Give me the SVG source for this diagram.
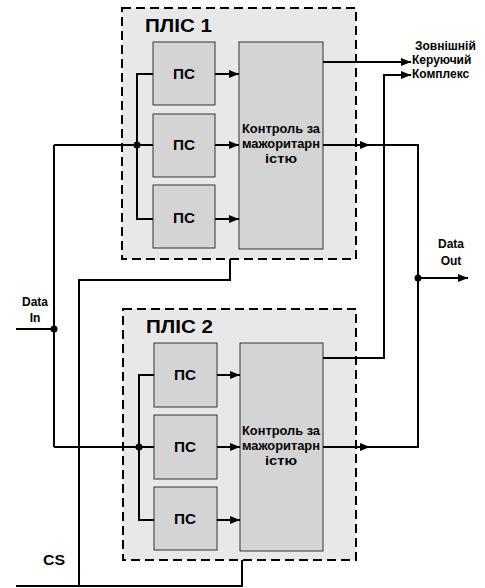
<svg xmlns="http://www.w3.org/2000/svg" width="485" height="588" viewBox="0 0 485 588">
<defs>
<style>
.plis{fill:#e8e8e8;stroke:#000;stroke-width:2;stroke-dasharray:9,5}
.box{fill:#d4d4d4;stroke:#333;stroke-width:1}
.w{fill:none;stroke:#000;stroke-width:2}
.t{font-family:"Liberation Sans",Arial,sans-serif;font-weight:bold;fill:#000}
.ttl{font-size:19px}
.ps{font-size:14px;text-anchor:middle}
.ctl{font-size:12px;text-anchor:middle}
.lbl{font-size:12px}
</style>
<marker id="ah" markerWidth="10" markerHeight="8" refX="10" refY="4" orient="auto" markerUnits="userSpaceOnUse">
<path d="M0,0 L10,4 L0,8 z" fill="#000"/>
</marker>
</defs>
<rect width="485" height="588" fill="#fff"/>

<g id="plis1">
<rect class="plis" x="122" y="8" width="234" height="251"/>
<text class="t ttl" x="145" y="32" textLength="67" lengthAdjust="spacingAndGlyphs">ПЛІС 1</text>
</g>
<g id="ps1a"><rect class="box" x="153" y="42" width="62" height="63"/><text class="t ps" x="184" y="79" textLength="22" lengthAdjust="spacingAndGlyphs">ПС</text></g>
<g id="ps1b"><rect class="box" x="153" y="114" width="62" height="63"/><text class="t ps" x="184" y="150" textLength="22" lengthAdjust="spacingAndGlyphs">ПС</text></g>
<g id="ps1c"><rect class="box" x="153" y="185" width="62" height="63"/><text class="t ps" x="184" y="223" textLength="22" lengthAdjust="spacingAndGlyphs">ПС</text></g>
<g id="ctl1"><rect class="box" x="239" y="42" width="84" height="207"/>
<text class="t ctl" x="281" y="133" textLength="78" lengthAdjust="spacingAndGlyphs">Контроль за</text>
<text class="t ctl" x="281" y="148" textLength="78" lengthAdjust="spacingAndGlyphs">мажоритарн</text>
<text class="t ctl" x="281" y="163" textLength="32" lengthAdjust="spacingAndGlyphs">істю</text></g>

<g id="plis2">
<rect class="plis" x="123" y="309" width="233" height="251"/>
<text class="t ttl" x="146" y="333" textLength="67" lengthAdjust="spacingAndGlyphs">ПЛІС 2</text>
</g>
<g id="ps2a"><rect class="box" x="154" y="343" width="63" height="64"/><text class="t ps" x="185" y="380" textLength="22" lengthAdjust="spacingAndGlyphs">ПС</text></g>
<g id="ps2b"><rect class="box" x="154" y="415" width="63" height="64"/><text class="t ps" x="185" y="452" textLength="22" lengthAdjust="spacingAndGlyphs">ПС</text></g>
<g id="ps2c"><rect class="box" x="154" y="487" width="63" height="63"/><text class="t ps" x="185" y="524" textLength="22" lengthAdjust="spacingAndGlyphs">ПС</text></g>
<g id="ctl2"><rect class="box" x="240" y="343" width="83" height="208"/>
<text class="t ctl" x="281" y="435" textLength="78" lengthAdjust="spacingAndGlyphs">Контроль за</text>
<text class="t ctl" x="281" y="450" textLength="78" lengthAdjust="spacingAndGlyphs">мажоритарн</text>
<text class="t ctl" x="281" y="465" textLength="32" lengthAdjust="spacingAndGlyphs">істю</text></g>

<g id="labels">
<text class="t lbl" x="415" y="50">Зовнішній</text>
<text class="t lbl" x="412" y="64">Керуючий</text>
<text class="t lbl" x="412" y="78">Комплекс</text>
<text class="t lbl" x="451" y="248" text-anchor="middle">Data</text>
<text class="t lbl" x="451" y="265" text-anchor="middle">Out</text>
<text class="t lbl" x="35" y="306" text-anchor="middle">Data</text>
<text class="t lbl" x="35" y="322" text-anchor="middle">In</text>
<text class="t" x="43" y="565" font-size="14" textLength="22" lengthAdjust="spacingAndGlyphs">CS</text>
</g>

<g id="connectors">
<path class="w" d="M54,145 H153"/>
<path class="w" d="M153,74 H137 V219 H153"/>
<circle cx="137" cy="145" r="3.5"/>
<path class="w" d="M215,74 H239" marker-end="url(#ah)"/>
<path class="w" d="M215,145 H239" marker-end="url(#ah)"/>
<path class="w" d="M215,219 H239" marker-end="url(#ah)"/>
<path class="w" d="M54,447 H154"/>
<path class="w" d="M154,375 H139 V520 H154"/>
<circle cx="139" cy="447" r="3.5"/>
<path class="w" d="M217,375 H240" marker-end="url(#ah)"/>
<path class="w" d="M217,447 H240" marker-end="url(#ah)"/>
<path class="w" d="M217,520 H240" marker-end="url(#ah)"/>
<path class="w" d="M54,145 V447"/>
<path class="w" d="M16,329 H54"/>
<circle cx="54" cy="329" r="3.5"/>
<path class="w" d="M323,62 H411" marker-end="url(#ah)"/>
<path class="w" d="M323,358 H384 V75 H411" marker-end="url(#ah)"/>
<path class="w" d="M323,145 H370" marker-end="url(#ah)"/>
<path class="w" d="M370,145 H418 V447 H370"/>
<path class="w" d="M323,447 H370" marker-end="url(#ah)"/>
<circle cx="418" cy="278" r="3.5"/>
<path class="w" d="M418,278 H468" marker-end="url(#ah)"/>
<path class="w" d="M230,259 V280 H79 V586"/>
<path class="w" d="M16,586 H242 V560"/>
</g>
</svg>
